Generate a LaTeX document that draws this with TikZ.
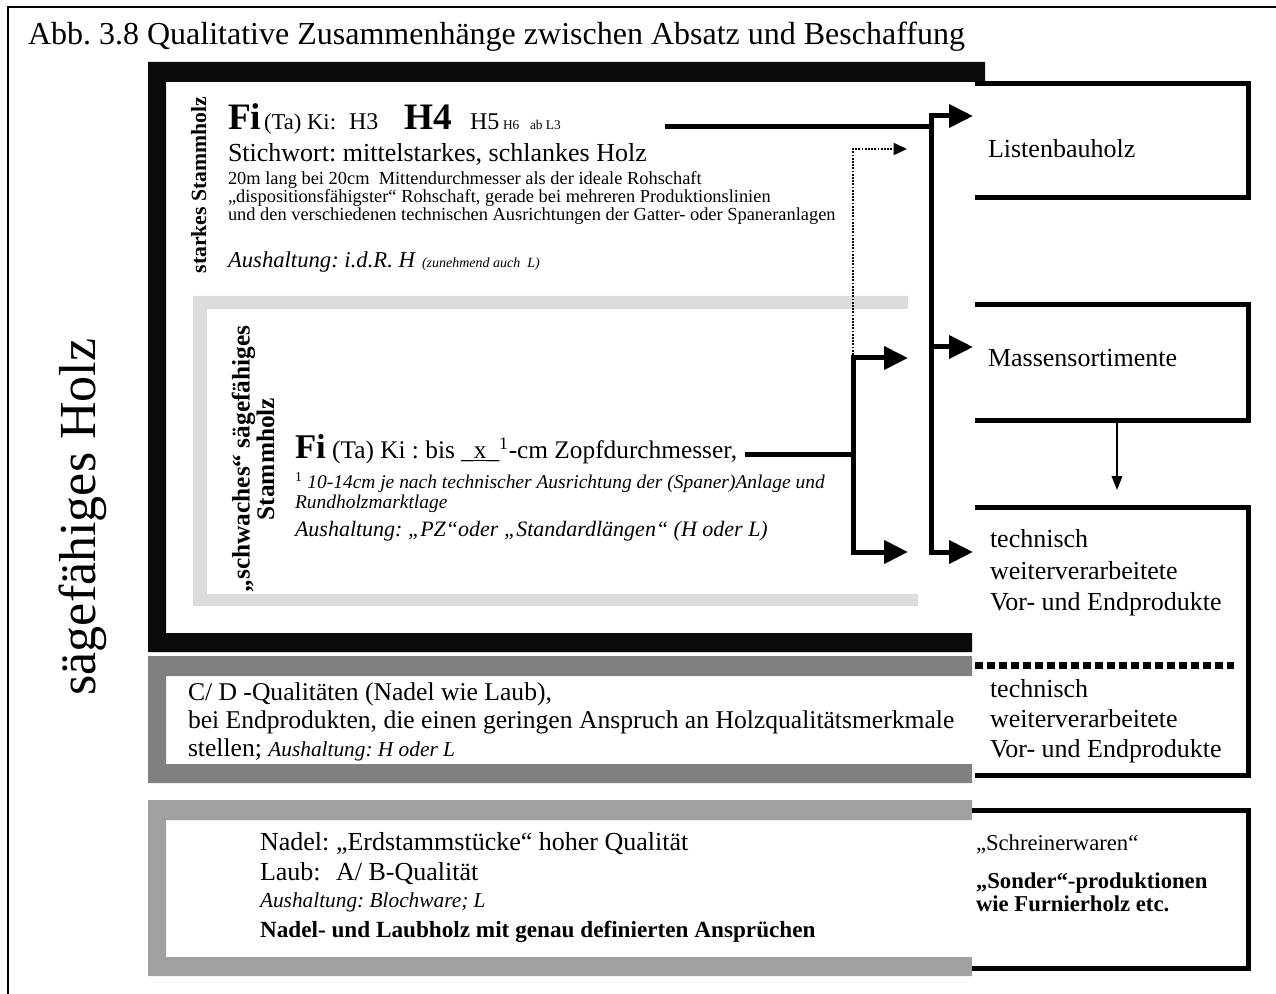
\documentclass[tikz,border=0pt]{standalone}
\usepackage{fontspec}
\setmainfont{Liberation Serif}
\usetikzlibrary{arrows.meta}
\definecolor{barblack}{HTML}{0A0A0A}
\definecolor{weakgray}{HTML}{DCDCDC}
\definecolor{cdgray}{HTML}{808080}
\definecolor{topgray}{HTML}{A0A0A0}
\newcommand\fs[2]{\fontsize{#1}{#2}\selectfont}
\frenchspacing

\begin{document}
\begin{tikzpicture}[x=0.75pt,y=-0.75pt,
  txt/.style={anchor=base west,inner sep=0pt,outer sep=0pt},
  rtxt/.style={txt,font=\fs{19.5}{23}},
  boxline/.style={line width=3.75pt,line join=miter},
  bar/.style={line width=3.75pt,line cap=rect},
  flow/.style={line width=3.75pt,-{Triangle[length=18pt,width=17pt]}},
  hint/.style={line width=1.2pt,dash pattern=on 1.3pt off 1.1pt,-{Triangle[length=10pt,width=9pt]}},
  thin/.style={line width=1.1pt,-{Triangle[length=10.5pt,width=8pt]}}
]
\useasboundingbox (0,0) rectangle (1276,994);

% page frame and heading
\draw[line width=1.5pt] (8,994) -- (8,7) -- (1276,7);
\node[txt,font=\fs{24}{28}] (title) at (28,45) {Abb. 3.8 Qualitative Zusammenhänge zwischen Absatz und Beschaffung};
\node[anchor=base,rotate=90,inner sep=0pt,font=\fs{39}{44}] (saw) at (95,517) {sägefähiges Holz};

% open frames of the wood classes
\fill[barblack] (148,62) rectangle (985,82) (148,62) rectangle (166,652) (148,633) rectangle (972,652);
\fill[weakgray] (193,296) rectangle (908,309) (193,296) rectangle (207,606) (193,594) rectangle (918,606);
\fill[cdgray] (148,656) rectangle (972,676) (148,656) rectangle (166,783) (148,764) rectangle (972,783);
\fill[topgray] (148,800) rectangle (972,820) (148,800) rectangle (166,976) (148,957) rectangle (972,976);

% product boxes (open on the left)
\draw[boxline] (975,84) -- (1248,84) -- (1248,198) -- (975,198);
\draw[boxline] (975,305) -- (1248,305) -- (1248,420) -- (975,420);
\draw[boxline] (975,507) -- (1248,507) -- (1248,775) -- (975,775);
\draw[line width=5.25pt,dash pattern=on 6pt off 3pt] (975,665) -- (1234,665);
\draw[boxline] (972,810) -- (1248,810) -- (1248,968) -- (972,968);

% strong stem wood
\node[anchor=base,rotate=90,inner sep=0pt,font=\bfseries\fs{16.3}{19}] (strong) at (206,185) {starkes Stammholz};
\node[txt,font=\bfseries\fs{28}{32}] (sFi) at (228,130) {Fi};
\node[txt,font=\fs{17}{19}] (sTaKi) at (264,130) {(Ta) Ki:};
\node[txt,font=\fs{18}{20}] (sH3) at (349,130) {H3};
\node[txt,font=\bfseries\fs{28}{32}] (sH4) at (404,130) {H4};
\node[txt,font=\fs{18}{20}] (sH5) at (470,130) {H5};
\node[txt,font=\fs{10}{12}] (sH6) at (503,130) {H6};
\node[txt,font=\fs{10}{12}] (sL3) at (530,130) {ab L3};
\node[txt,font=\fs{19.5}{23}] (sKey) at (228,162) {Stichwort: mittelstarkes, schlankes Holz};
\node[txt,font=\fs{13.8}{16}] (sL1) at (228,185) {20m lang bei 20cm\ \ Mittendurchmesser als der ideale Rohschaft};
\node[txt,font=\fs{13.8}{16}] (sL2) at (228,203) {„dispositionsfähigster“ Rohschaft, gerade bei mehreren Produktionslinien};
\node[txt,font=\fs{13.8}{16}] (sL3b) at (228,221) {und den verschiedenen technischen Ausrichtungen der Gatter- oder Spaneranlagen};
\node[txt,font=\itshape\fs{17}{20}] (sAus) at (228,268) {Aushaltung: i.d.R. H};
\node[txt,font=\itshape\fs{10.5}{12}] (sAus2) at (422,268) {(zunehmend auch\ \ L)};

% weak sawable stem wood
\node[rotate=90,align=center,inner sep=0pt,font=\bfseries\fs{19}{17}] (weak) at (253,459) {„schwaches“ sägefähiges\\Stammholz};
\node[txt,font=\fs{19}{22}] (wFi) at (295,458) {{\bfseries\fs{26}{30}Fi} (Ta) Ki : bis \_\underline{x}\_\textsuperscript{1}-cm Zopfdurchmesser,};
\node[txt,font=\fs{14.6}{16}] (wNote) at (295,488) {\textsuperscript{1} \itshape 10-14cm je nach technischer Ausrichtung der (Spaner)Anlage und};
\node[txt,font=\itshape\fs{14.6}{16}] (wNote2) at (295,508) {Rundholzmarktlage};
\node[txt,font=\itshape\fs{16.5}{19}] (wAus) at (295,536) {Aushaltung: „PZ“oder „Standardlängen“ (H oder L)};

% C/D qualities
\node[txt,font=\fs{19.2}{23}] (cd1) at (188,700) {C/ D -Qualitäten (Nadel wie Laub),};
\node[txt,font=\fs{19.2}{23}] (cd2) at (188,728) {bei Endprodukten, die einen geringen Anspruch an Holzqualitätsmerkmale};
\node[txt,font=\fs{19.2}{23}] (cd3) at (188,756) {stellen; {\itshape\fs{16}{19}Aushaltung: H oder L}};

% top qualities
\node[txt,font=\fs{19.5}{23}] (q1) at (260,850) {\makebox[57pt][l]{Nadel:}„Erdstammstücke“ hoher Qualität};
\node[txt,font=\fs{19.5}{23}] (q2) at (260,880) {\makebox[57pt][l]{Laub:}A/ B-Qualität};
\node[txt,font=\itshape\fs{16}{19}] (q3) at (260,907) {Aushaltung: Blochware; L};
\node[txt,font=\bfseries\fs{17.4}{20}] (q4) at (260,937) {Nadel- und Laubholz mit genau definierten Ansprüchen};

% products
\node[rtxt] (pList) at (988,158) {Listenbauholz};
\node[rtxt] (pMass) at (988,367) {Massensortimente};
\node[rtxt] (pT1) at (990,547) {technisch};
\node[rtxt] (pT2) at (990,579) {weiterverarbeitete};
\node[rtxt] (pT3) at (990,610) {Vor- und Endprodukte};
\node[rtxt] (pU1) at (990,697) {technisch};
\node[rtxt] (pU2) at (990,727) {weiterverarbeitete};
\node[rtxt] (pU3) at (990,757) {Vor- und Endprodukte};
\node[txt,font=\fs{17}{20}] (pS1) at (976,850) {„Schreinerwaren“};
\node[txt,font=\bfseries\fs{17}{19}] (pS2) at (976,888) {„Sonder“-produktionen};
\node[txt,font=\bfseries\fs{17}{19}] (pS3) at (976,911) {wie Furnierholz etc.};

% connection points
\coordinate (sOut) at (665,127);
\coordinate (spTop) at (931,116);
\coordinate (spMid) at (931,347);
\coordinate (spBot) at (931,552);
\coordinate (inList) at (973,116);
\coordinate (inMass) at (973,347);
\coordinate (inTech) at (973,552);
\coordinate (wOut) at (745,454);
\coordinate (brTop) at (853,358);
\coordinate (brBot) at (853,552);
\coordinate (brOutTop) at (908,358);
\coordinate (brOutBot) at (908,552);
\coordinate (hintTurn) at (853,149);
\coordinate (hintEnd) at (907,149);
\coordinate (massOut) at (1117,423);
\coordinate (techIn) at (1117,490);

% flows from strong stem wood
\draw[bar,line cap=butt] (sOut) -- (spTop |- sOut);
\draw[bar] (spTop) -- (spBot);
\draw[flow] (spTop) -- (inList);
\draw[flow] (spMid) -- (inMass);
\draw[flow] (spBot) -- (inTech);

% flows from weak stem wood
\draw[bar,line cap=butt] (wOut) -- (brTop |- wOut);
\draw[bar] (brTop) -- (brBot);
\draw[flow] (brTop) -- (brOutTop);
\draw[flow] (brBot) -- (brOutBot);
\draw[hint] (brTop) -- (hintTurn) -- (hintEnd);

% mass assortments feed further processing
\draw[thin] (massOut) -- (techIn);
\end{tikzpicture}
\end{document}
